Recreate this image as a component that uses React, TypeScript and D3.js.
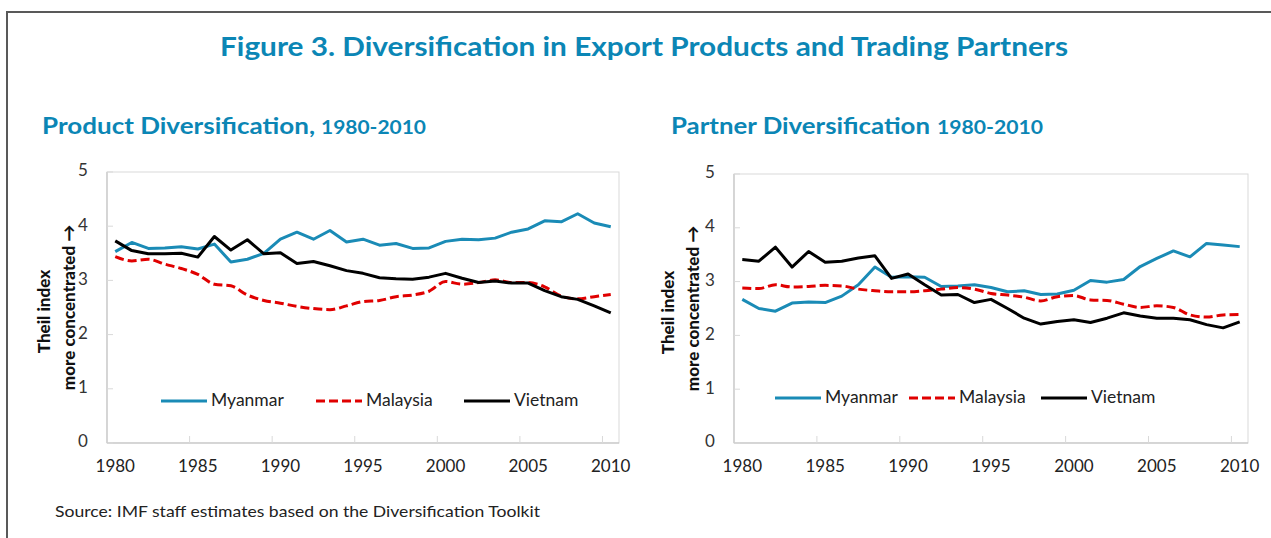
import * as React from "react";
import * as d3 from "d3";

const years = d3.range(1980, 2011);
const yTicks = [0, 1, 2, 3, 4, 5];
const xLabelYears = [1980, 1985, 1990, 1995, 2000, 2005, 2010];
const seriesNames = ["Myanmar", "Malaysia", "Vietnam"];

// product diversification (Theil index)
const productMyanmar = [3.53, 3.70, 3.59, 3.60, 3.62, 3.58, 3.67, 3.34, 3.39, 3.50, 3.76, 3.89, 3.76, 3.92, 3.71, 3.76, 3.65, 3.68, 3.59, 3.60, 3.72, 3.76, 3.75, 3.78, 3.89, 3.95, 4.10, 4.08, 4.23, 4.06, 3.99];
const productMalaysia = [3.44, 3.36, 3.39, 3.30, 3.22, 3.11, 2.93, 2.90, 2.73, 2.63, 2.58, 2.52, 2.48, 2.46, 2.53, 2.61, 2.63, 2.70, 2.73, 2.80, 2.98, 2.93, 2.96, 3.01, 2.96, 2.96, 2.88, 2.71, 2.66, 2.70, 2.74];
const productVietnam = [3.73, 3.55, 3.49, 3.49, 3.50, 3.43, 3.81, 3.56, 3.75, 3.49, 3.51, 3.31, 3.35, 3.27, 3.18, 3.13, 3.05, 3.03, 3.02, 3.06, 3.13, 3.04, 2.96, 2.99, 2.95, 2.95, 2.81, 2.70, 2.65, 2.53, 2.40];

// partner diversification (Theil index)
const partnerMyanmar = [2.67, 2.50, 2.45, 2.60, 2.62, 2.61, 2.73, 2.94, 3.27, 3.08, 3.09, 3.08, 2.91, 2.92, 2.94, 2.89, 2.81, 2.83, 2.76, 2.77, 2.84, 3.02, 2.99, 3.04, 3.28, 3.43, 3.57, 3.46, 3.71, 3.68, 3.65];
const partnerMalaysia = [2.88, 2.87, 2.94, 2.90, 2.91, 2.93, 2.92, 2.86, 2.83, 2.81, 2.81, 2.83, 2.86, 2.89, 2.86, 2.78, 2.75, 2.71, 2.64, 2.72, 2.74, 2.66, 2.65, 2.58, 2.52, 2.55, 2.52, 2.38, 2.34, 2.38, 2.39];
const partnerVietnam = [3.41, 3.38, 3.64, 3.27, 3.56, 3.36, 3.38, 3.44, 3.48, 3.06, 3.14, 2.94, 2.75, 2.76, 2.61, 2.67, 2.50, 2.32, 2.21, 2.26, 2.29, 2.24, 2.32, 2.42, 2.36, 2.32, 2.32, 2.29, 2.20, 2.14, 2.25];

const BLUE = "#1a8bb6";
const RED = "#e00000";
const TITLE = "#0b86b5";
const FONT = "Lato, 'Open Sans', sans-serif";

const styles = [
  { color: BLUE, dash: null, curve: d3.curveLinear },
  { color: RED, dash: "9,4", curve: d3.curveMonotoneX },
  { color: "#000", dash: null, curve: d3.curveLinear },
];

type PanelProps = {
  left: number; right: number; top: number; bottom: number;
  series: number[][];
  legendY: number;
  legendX: number[]; // start of each legend sample
  labelX: number; // centre x of tick labels
  titleX: number; // centre x of axis title lines
};

function Panel(p: PanelProps) {
  const x = d3.scaleBand<number>().domain(years).range([p.left, p.right]);
  const y = d3.scaleLinear().domain([0, 5]).range([p.bottom, p.top]);
  const cx = (yr: number) => (x(yr) as number) + x.bandwidth() / 2;
  const midY = (p.top + p.bottom) / 2 + 4;

  return (
    <g>
      <rect x={p.left} y={p.top} width={p.right - p.left} height={p.bottom - p.top}
        fill="none" stroke="#d9d9d9" strokeWidth={1} />
      <line x1={p.left} x2={p.left} y1={p.top} y2={p.bottom} stroke="#bfbfbf" />
      <line x1={p.left} x2={p.right} y1={p.bottom} y2={p.bottom} stroke="#bfbfbf" />
      {yTicks.map((t) => (
        <g key={t}>
          <line x1={p.left} x2={p.left + 6} y1={y(t)} y2={y(t)} stroke="#d9d9d9" />
          <text x={p.labelX} y={y(t)} textAnchor="middle" dominantBaseline="middle"
            fontSize={17} fill="#333">{t}</text>
        </g>
      ))}
      {years.filter((yr, i) => i > 0 && (yr - 1980) % 5 === 0).map((yr) => (
        <line key={yr} x1={x(yr)} x2={x(yr)} y1={p.bottom} y2={p.bottom - 7} stroke="#d9d9d9" />
      ))}
      {xLabelYears.map((yr) => (
        <text key={yr} x={cx(yr)} y={p.bottom + 25} textAnchor="middle" dominantBaseline="middle"
          fontSize={17} fill="#222">{yr}</text>
      ))}
      <text transform={`translate(${p.titleX},${midY}) rotate(-90)`} textAnchor="middle"
        dominantBaseline="middle" fontSize={17} fontWeight="900" fill="#111">Theil index</text>
      <text transform={`translate(${p.titleX + 25},${midY - 4}) rotate(-90)`} textAnchor="middle"
        dominantBaseline="middle" fontSize={17} fontWeight="900" fill="#111">more concentrated →</text>

      {p.series.map((vals, k) => {
        const line = d3.line<number>()
          .x((_, i) => cx(years[i]))
          .y((v) => y(v))
          .curve(styles[k].curve);
        return (
          <path key={k} d={line(vals) || ""} fill="none" stroke={styles[k].color}
            strokeWidth={3} strokeDasharray={styles[k].dash || undefined}
            strokeLinejoin="round" />
        );
      })}

      {seriesNames.map((name, k) => (
        <g key={name}>
          <line x1={p.legendX[k]} x2={p.legendX[k] + 46} y1={p.legendY} y2={p.legendY}
            stroke={styles[k].color} strokeWidth={3} strokeDasharray={styles[k].dash || undefined} />
          <text x={p.legendX[k] + 50} y={p.legendY + 1} dominantBaseline="middle" fontSize={17.5}
            fill="#222">{name}</text>
        </g>
      ))}
    </g>
  );
}

export default function App() {
  React.useEffect(() => {
    document.body.style.margin = "0";
  }, []);
  return (
    <svg width={1271} height={538} style={{ display: "block", fontFamily: FONT, background: "#fff" }}>
      <rect x={7} y={12} width={1300} height={560} fill="#fff" stroke="#595959" strokeWidth={2} />
      <text x={220} y={56} fontSize={27} fontWeight="bold" fill={TITLE} textLength={848}
        lengthAdjust="spacingAndGlyphs">Figure 3. Diversification in Export Products and Trading Partners</text>

      <text x={42} y={134} fontSize={22} fontWeight="bold" fill={TITLE} textLength={273}
        lengthAdjust="spacingAndGlyphs">Product Diversification,</text>
      <text x={321} y={134} fontSize={19} fontWeight="bold" fill={TITLE} textLength={105}
        lengthAdjust="spacingAndGlyphs">1980-2010</text>
      <text x={671} y={134} fontSize={22} fontWeight="bold" fill={TITLE} textLength={259}
        lengthAdjust="spacingAndGlyphs">Partner Diversification</text>
      <text x={937} y={134} fontSize={19} fontWeight="bold" fill={TITLE} textLength={106}
        lengthAdjust="spacingAndGlyphs">1980-2010</text>

      <Panel left={107} right={619} top={172} bottom={443}
        series={[productMyanmar, productMalaysia, productVietnam]}
        legendY={401} legendX={[161, 316, 464]} labelX={83} titleX={46} />
      <Panel left={734} right={1248} top={174} bottom={443}
        series={[partnerMyanmar, partnerMalaysia, partnerVietnam]}
        legendY={398} legendX={[775, 909, 1041]} labelX={710} titleX={670} />

      <text x={55} y={517} fontSize={15} fill="#222" textLength={485}
        lengthAdjust="spacingAndGlyphs">Source: IMF staff estimates based on the Diversification Toolkit</text>
    </svg>
  );
}
